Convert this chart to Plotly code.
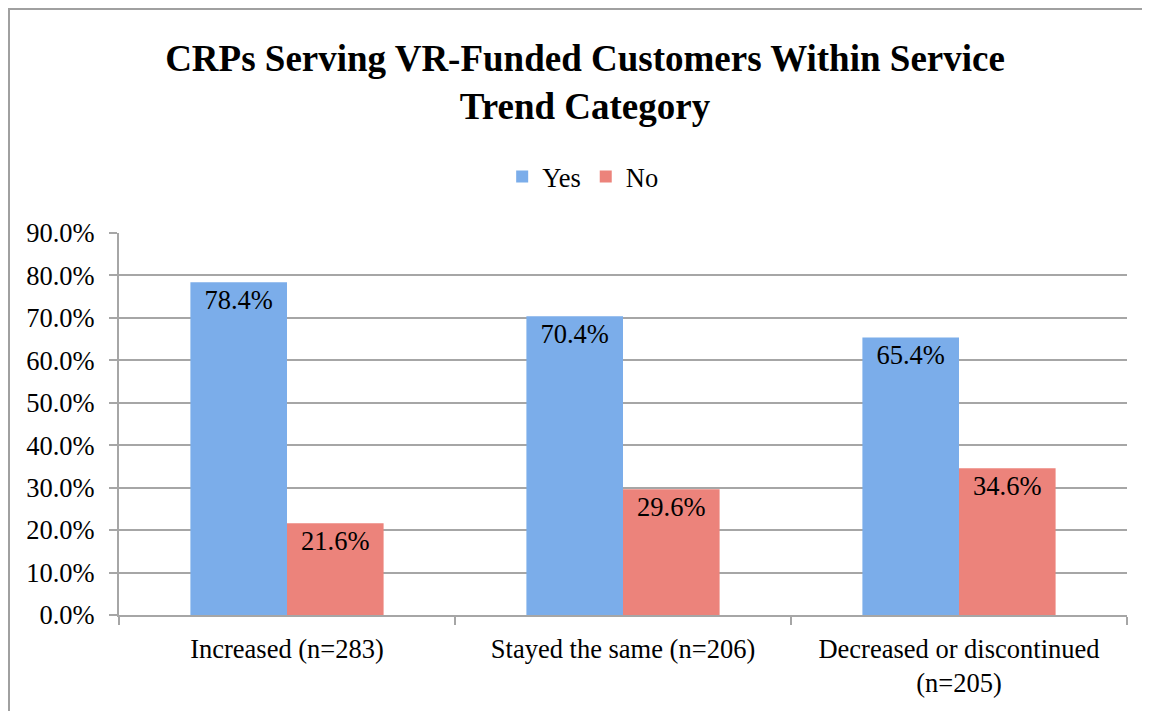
import plotly.graph_objects as go

categories = ["Increased (n=283)", "Stayed the same (n=206)", "Decreased or discontinued<br>(n=205)"]
yes_values = [0.784, 0.704, 0.654]
no_values = [0.216, 0.296, 0.346]
y_ticks = [0.0, 0.1, 0.2, 0.3, 0.4, 0.5, 0.6, 0.7, 0.8, 0.9]

FONT = "Liberation Serif, Times New Roman, serif"
GRID = "#A6A6A6"
FS = 26.5
W, H = 1142, 703
L, T, R, B = 111, 225, 23, 96
PW, PH = W - L - R, H - T - B

fig = go.Figure()
fig.add_trace(go.Bar(
    name="Yes", x=categories, y=yes_values,
    marker=dict(color="#7BADEA", line=dict(width=0)),
    text=[f"{v*100:.1f}%" for v in yes_values],
    textposition="inside", insidetextanchor="end", textangle=0,
    textfont=dict(family=FONT, size=FS, color="black"),
))
fig.add_trace(go.Bar(
    name="No", x=categories, y=no_values,
    marker=dict(color="#EC837B", line=dict(width=0)),
    text=[f"{v*100:.1f}%" for v in no_values],
    textposition="inside", insidetextanchor="end", textangle=0,
    textfont=dict(family=FONT, size=FS, color="black"),
))

fig.update_layout(
    width=W, height=H,
    margin=dict(l=L, r=R, t=T, b=B, autoexpand=False),
    paper_bgcolor="white", plot_bgcolor="white",
    font=dict(family=FONT, size=FS, color="black"),
    barmode="group", bargap=0.425, bargroupgap=0,
    uniformtext=dict(mode=False),
    title=dict(
        text="<b>CRPs Serving VR-Funded Customers Within Service<br>Trend Category</b>",
        font=dict(family=FONT, size=37, color="black"),
        x=577 / W, xref="container", xanchor="center",
        y=1 - 63 / H, yref="container", yanchor="top",
    ),
    legend=dict(
        orientation="h", x=0.46, xanchor="center", y=1.147, yanchor="middle",
        font=dict(family=FONT, size=FS, color="black"),
        itemwidth=30, traceorder="normal",
    ),
    showlegend=True,
    shapes=[dict(
        type="rect", xref="paper", yref="paper",
        x0=(1 - L) / PW, x1=(W + 20 - L) / PW,
        y0=(PH + T - (H + 20)) / PH, y1=(PH + T - 1) / PH,
        line=dict(color="#A0A0A0", width=2), fillcolor="rgba(0,0,0,0)", layer="below",
    )],
)

fig.update_xaxes(
    type="category", showline=True, linecolor=GRID, linewidth=2,
    ticks="outside", tickson="boundaries", ticklen=8, tickcolor=GRID, tickwidth=2,
    showgrid=False, tickfont=dict(family=FONT, size=FS, color="black"),
    ticklabelstandoff=9,
)
fig.update_yaxes(
    range=[0, 0.9], tickvals=y_ticks, tickformat=".1%",
    showline=True, linecolor=GRID, linewidth=2,
    ticks="outside", ticklen=8, tickcolor=GRID, tickwidth=2,
    showgrid=True, gridcolor=GRID, gridwidth=2, zeroline=False,
    tickfont=dict(family=FONT, size=FS, color="black"),
    ticklabelstandoff=9,
)

fig.write_html("out.html")
